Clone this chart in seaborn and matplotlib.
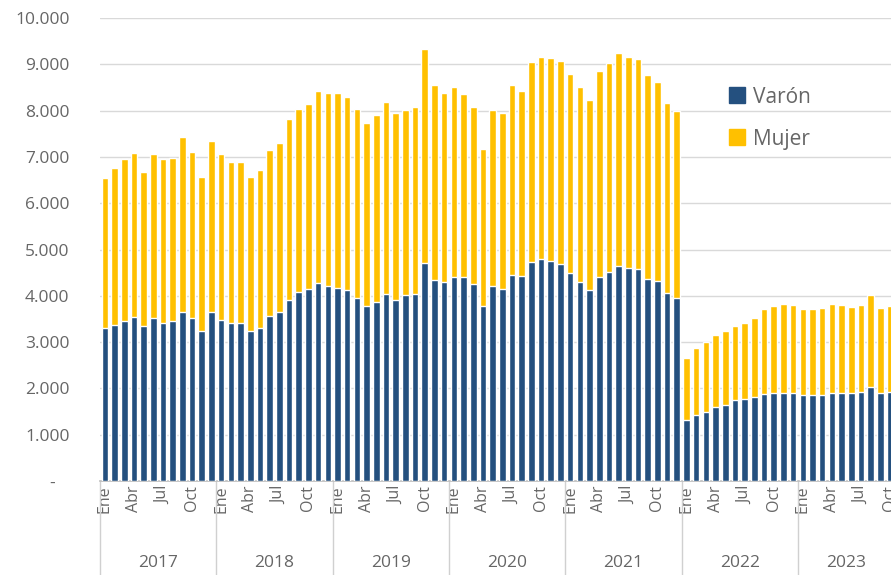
import matplotlib
matplotlib.use("Agg")
import matplotlib.pyplot as plt
from matplotlib.lines import Line2D
import seaborn as sns
import pandas as pd

# Monthly data, Jan 2017 - Oct 2023
years = ["2017", "2018", "2019", "2020", "2021", "2022", "2023"]
month_names = ["Ene", "Feb", "Mar", "Abr", "May", "Jun", "Jul", "Ago", "Sep", "Oct", "Nov", "Dic"]
months_per_year = [12, 12, 12, 12, 12, 12, 10]

varon = [
    3300, 3370, 3460, 3540, 3350, 3530, 3420, 3460, 3650, 3530, 3240, 3640,
    3480, 3410, 3420, 3240, 3310, 3560, 3650, 3910, 4080, 4140, 4270, 4210,
    4160, 4120, 3960, 3790, 3870, 4030, 3920, 4020, 4040, 4700, 4350, 4290,
    4410, 4410, 4250, 3780, 4210, 4140, 4460, 4430, 4740, 4790, 4760, 4680,
    4500, 4300, 4120, 4410, 4520, 4640, 4590, 4570, 4370, 4310, 4070, 3960,
    1320, 1430, 1500, 1590, 1650, 1740, 1780, 1820, 1870, 1890, 1890, 1890,
    1860, 1860, 1860, 1890, 1890, 1890, 1930, 2020, 1890, 1930,
]
mujer = [
    3250, 3390, 3500, 3540, 3330, 3530, 3540, 3520, 3780, 3580, 3320, 3710,
    3580, 3480, 3470, 3320, 3410, 3590, 3650, 3900, 3960, 4000, 4150, 4170,
    4220, 4180, 4070, 3950, 4030, 4160, 4030, 3990, 4030, 4630, 4200, 4090,
    4100, 3950, 3820, 3380, 3800, 3810, 4090, 3990, 4310, 4360, 4370, 4390,
    4290, 4200, 4100, 4450, 4510, 4610, 4560, 4540, 4400, 4310, 4100, 4040,
    1330, 1450, 1510, 1560, 1590, 1610, 1630, 1700, 1840, 1890, 1930, 1910,
    1850, 1850, 1870, 1930, 1910, 1870, 1870, 2000, 1840, 1850,
]
yticks = [0, 1000, 2000, 3000, 4000, 5000, 6000, 7000, 8000, 9000, 10000]
ytick_labels = ["-   ", "1.000", "2.000", "3.000", "4.000", "5.000", "6.000",
                "7.000", "8.000", "9.000", "10.000"]

rows = []
for y, n in zip(years, months_per_year):
    for m in range(n):
        rows.append({"periodo": f"{y}-{m + 1:02d}", "anio": y, "mes": month_names[m]})
df = pd.DataFrame(rows)
df["Varón"] = varon
df["Mujer"] = mujer
df["Total"] = df["Varón"] + df["Mujer"]

blue = "#24507F"
yellow = "#FFC000"
text_col = "#666666"

sns.set_theme(style="white")
plt.rcParams["font.family"] = ["Open Sans", "DejaVu Sans"]

fig = plt.figure(figsize=(8.91, 5.75), dpi=100)
n = len(df)
ax = fig.add_axes([100 / 891, 94 / 575, n * 9.694 / 891, 463 / 575])

# stacked bars: total in yellow, varón drawn on top
sns.barplot(data=df, x="periodo", y="Total", color=yellow, width=0.68,
            saturation=1, ax=ax, zorder=2)
sns.barplot(data=df, x="periodo", y="Varón", color=blue, width=0.68,
            saturation=1, ax=ax, zorder=3)

ax.set_xlim(-0.5, n - 0.5)
ax.set_ylim(0, 10000)
ax.set_yticks(yticks)
ax.set_yticklabels(ytick_labels, fontsize=12.5, color=text_col)
ax.tick_params(axis="y", length=0, pad=22)
ax.yaxis.grid(True, color="#d9d9d9", linewidth=1)
ax.set_axisbelow(True)

tick_pos = [i for i, m in enumerate(df["mes"]) if m in ("Ene", "Abr", "Jul", "Oct")]
ax.set_xticks(tick_pos)
ax.set_xticklabels([df["mes"][i] for i in tick_pos], rotation=90,
                   fontsize=11.5, color=text_col)
ax.tick_params(axis="x", length=0, pad=3)
ax.set_xlabel("")
ax.set_ylabel("")

for side in ["left", "right", "top"]:
    ax.spines[side].set_visible(False)
ax.spines["bottom"].set_color("#bfbfbf")

# year group labels and separators
xt = ax.get_xaxis_transform()
start = 0
for y, cnt in zip(years, months_per_year):
    ax.plot([start - 0.5, start - 0.5], [0, -0.21], transform=xt,
            color="#d0d0d0", linewidth=1, clip_on=False)
    ax.text(start + cnt / 2 - 0.5, -0.178, y, transform=xt, ha="center",
            va="center", fontsize=12.5, color=text_col)
    start += cnt

handles = [Line2D([], [], marker="s", linestyle="none", markersize=11, color=blue),
           Line2D([], [], marker="s", linestyle="none", markersize=11, color=yellow)]
fig.legend(handles, ["Varón", "Mujer"], loc="upper left",
           bbox_to_anchor=(711 / 891, 1 - 68 / 575), frameon=False,
           fontsize=15, labelcolor=text_col, handlelength=0.7,
           handletextpad=0.4, labelspacing=1.0)

fig.savefig("out.png", dpi=100)
